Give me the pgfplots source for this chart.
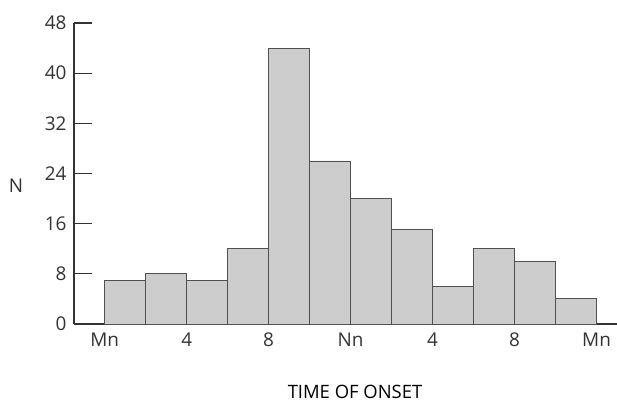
\documentclass[border=0pt]{standalone}
\usepackage{pgfplots}
\pgfplotsset{compat=1.18}
\usepackage{fontspec}
\setmainfont{Open Sans}
\definecolor{txt}{HTML}{333333}
\definecolor{barfill}{HTML}{CDCDCD}
\definecolor{baredge}{HTML}{505050}
\begin{document}
\fontsize{19}{23}\selectfont
\begin{tikzpicture}
\useasboundingbox (0,0) rectangle (617bp,401bp);
\begin{axis}[
  at={(74bp,77bp)}, anchor=south west,
  scale only axis,
  width=543bp, height=301bp,
  xmin=-1.5, xmax=25,
  ymin=0, ymax=48,
  axis x line=bottom, axis y line=left,
  axis line style={-, color=txt, line width=1.1pt},
  xtick={0,4,8,12,16,20,24},
  xticklabels={Mn,4,8,Nn,4,8,Mn},
  ytick={0,8,16,24,32,40,48},
  major x tick style={draw=none},
  major y tick style={color=txt, line width=1.1pt},
  major tick length=18bp,
  tick align=inside,
  /pgf/number format/assume math mode=true,
  tick label style={font=\fontsize{19}{23}\selectfont, color=txt},
  xticklabel style={yshift=-2bp},
  yticklabel style={xshift=-1bp},
  xlabel={TIME OF ONSET},
  xlabel style={font=\fontsize{18.5}{22}\selectfont, color=black,
    at={(axis description cs:0.5175,-0.246)}, anchor=base},
  ylabel={N},
  ylabel style={font=\fontsize{19}{23}\selectfont, color=txt, rotate=-90,
    at={(axis description cs:-0.107,0.46)}, anchor=center},
  clip=false,
]
\addplot[ybar interval, fill=barfill, draw=baredge, line width=0.9pt]
  coordinates {
  (0,7) (2,8) (4,7) (6,12) (8,44) (10,26)
  (12,20) (14,15) (16,6) (18,12) (20,10) (22,4) (24,4)
  };
\end{axis}
\end{tikzpicture}
\end{document}
